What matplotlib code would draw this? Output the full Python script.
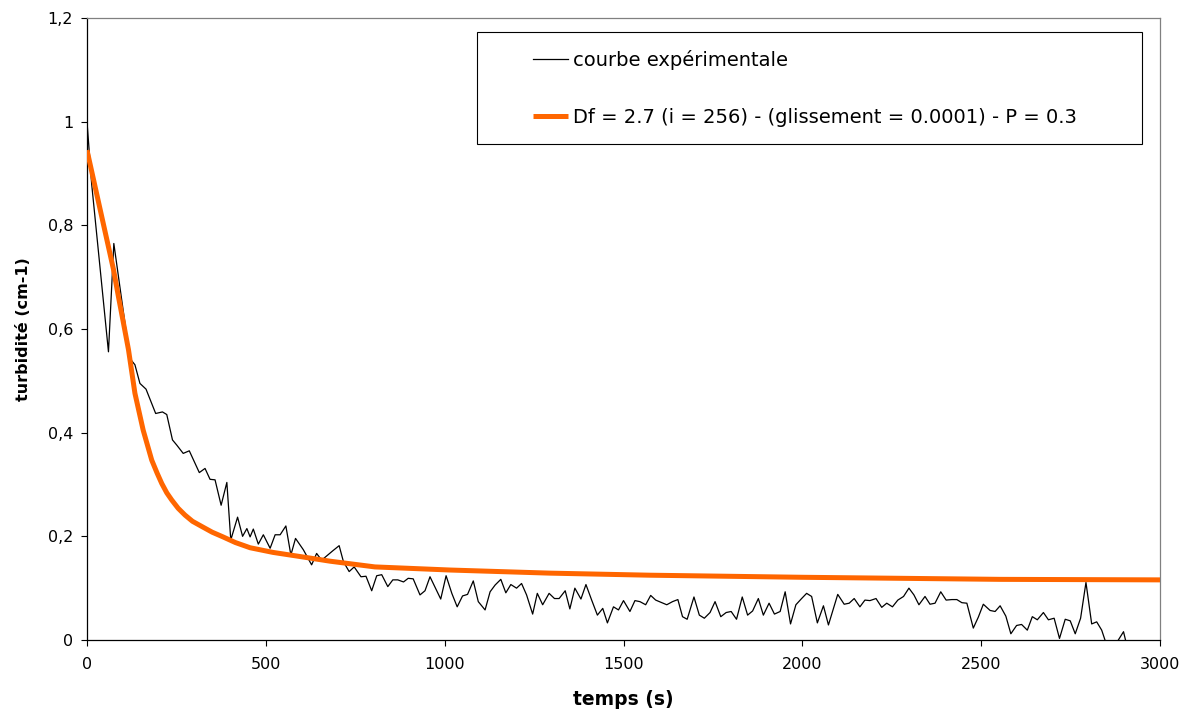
import matplotlib
matplotlib.use("Agg")
import matplotlib.pyplot as plt
from matplotlib.legend_handler import HandlerLine2D
from matplotlib.ticker import FuncFormatter

# ---- data ----
exp_t = [0, 13, 60, 75, 120, 134, 148, 165, 192, 211, 223, 239, 251, 269, 286,
         314, 330, 344, 358, 375, 391, 402, 421, 435, 447, 456, 465, 479, 493,
         512, 526, 540, 556, 570, 583, 605, 628, 642, 656, 687, 705, 717, 733,
         747, 766, 780, 796, 810, 824, 841, 855, 869, 885, 898, 912, 931, 945,
         959, 973, 989, 1004, 1020, 1035, 1050, 1064, 1080, 1094, 1113, 1127,
         1141, 1157, 1171, 1185, 1201, 1215, 1229, 1246, 1259, 1274, 1292, 1307,
         1320, 1337, 1350, 1364, 1381, 1395, 1411, 1427, 1442, 1455, 1472, 1486,
         1500, 1518, 1532, 1546, 1562, 1576, 1590, 1607, 1621, 1637, 1652, 1665,
         1678, 1697, 1712, 1726, 1742, 1756, 1772, 1787, 1801, 1816, 1832, 1847,
         1861, 1877, 1891, 1907, 1922, 1938, 1952, 1967, 1982, 1998, 2012, 2026,
         2042, 2059, 2073, 2099, 2117, 2131, 2145, 2161, 2175, 2189, 2206, 2222,
         2236, 2252, 2267, 2283, 2298, 2312, 2326, 2343, 2357, 2371, 2387, 2402,
         2418, 2432, 2446, 2460, 2478, 2492, 2506, 2525, 2539, 2553, 2569, 2583,
         2599, 2613, 2629, 2643, 2657, 2674, 2688, 2704, 2719, 2735, 2749, 2763,
         2778, 2793, 2809, 2823, 2837, 2851, 2879, 2898, 2907]
exp_v = [1.0, 0.88, 0.556, 0.765, 0.543, 0.531, 0.495, 0.484, 0.437, 0.440,
         0.435, 0.386, 0.376, 0.360, 0.365, 0.323, 0.331, 0.310, 0.309, 0.260,
         0.304, 0.193, 0.237, 0.200, 0.215, 0.199, 0.214, 0.185, 0.203, 0.177,
         0.203, 0.203, 0.220, 0.164, 0.196, 0.174, 0.145, 0.167, 0.154, 0.172,
         0.182, 0.151, 0.132, 0.141, 0.122, 0.123, 0.095, 0.124, 0.126, 0.103,
         0.116, 0.116, 0.112, 0.119, 0.118, 0.087, 0.095, 0.122, 0.102, 0.079,
         0.124, 0.090, 0.064, 0.085, 0.088, 0.114, 0.074, 0.058, 0.093, 0.106,
         0.117, 0.091, 0.107, 0.100, 0.109, 0.087, 0.050, 0.090, 0.068, 0.090,
         0.080, 0.080, 0.095, 0.060, 0.100, 0.079, 0.107, 0.077, 0.048, 0.061,
         0.033, 0.064, 0.058, 0.076, 0.055, 0.076, 0.074, 0.068, 0.086, 0.077,
         0.072, 0.068, 0.074, 0.078, 0.045, 0.040, 0.083, 0.048, 0.042, 0.053,
         0.074, 0.045, 0.053, 0.055, 0.040, 0.083, 0.048, 0.056, 0.080, 0.048,
         0.071, 0.050, 0.055, 0.093, 0.031, 0.068, 0.080, 0.090, 0.084, 0.033,
         0.066, 0.029, 0.088, 0.069, 0.071, 0.080, 0.064, 0.077, 0.076, 0.080,
         0.063, 0.071, 0.064, 0.077, 0.084, 0.100, 0.087, 0.068, 0.084, 0.069,
         0.071, 0.093, 0.077, 0.078, 0.078, 0.072, 0.071, 0.023, 0.044, 0.069,
         0.057, 0.055, 0.066, 0.046, 0.012, 0.028, 0.030, 0.019, 0.045, 0.039,
         0.053, 0.039, 0.042, 0.003, 0.040, 0.037, 0.012, 0.042, 0.111, 0.031,
         0.035, 0.019, -0.010, -0.005, 0.016, -0.010]

fit_t = [0, 36, 74, 88, 101, 116, 134, 157, 181, 196, 209, 223, 237, 255, 274,
         295, 321, 350, 380, 415, 456, 520, 596, 680, 805, 1015, 1294, 1574,
         2000, 2553, 3000]
fit_v = [0.945, 0.833, 0.715, 0.662, 0.615, 0.560, 0.476, 0.405, 0.347, 0.322,
         0.302, 0.284, 0.270, 0.254, 0.241, 0.229, 0.219, 0.208, 0.199, 0.188,
         0.178, 0.169, 0.161, 0.152, 0.141, 0.135, 0.129, 0.125, 0.121, 0.117,
         0.116]

exp_label = "courbe expérimentale"
fit_label = "Df = 2.7 (i = 256) - (glissement = 0.0001) - P = 0.3"
x_ticks = [0, 500, 1000, 1500, 2000, 2500, 3000]
y_ticks = [0, 0.2, 0.4, 0.6, 0.8, 1.0, 1.2]

plt.rcParams['font.family'] = ['DejaVu Sans']

W, H = 1187, 716
fig = plt.figure(figsize=(W / 100, H / 100), dpi=100)
ax = fig.add_axes([87 / W, 1 - 640 / H, (1160 - 87) / W, (640 - 18) / H])

ax.plot(exp_t, exp_v, color='black', lw=0.9, label=exp_label, zorder=2)
ax.plot(fit_t, fit_v, color='#FF6600', lw=3.6, label=fit_label, zorder=3,
        solid_capstyle='butt', solid_joinstyle='round')

ax.set_xlim(0, 3000)
ax.set_ylim(0, 1.2)
ax.set_xticks(x_ticks)
ax.set_yticks(y_ticks)
ax.yaxis.set_major_formatter(FuncFormatter(lambda v, p: f"{v:g}".replace('.', ',')))
ax.tick_params(direction='out', length=4, width=0.8, colors='black',
               labelsize=11.5)
ax.tick_params(axis='x', pad=8)
ax.tick_params(axis='y', pad=6)

for s in ('left', 'bottom'):
    ax.spines[s].set_color('black')
    ax.spines[s].set_linewidth(0.9)
for s in ('top', 'right'):
    ax.spines[s].set_color('#808080')
    ax.spines[s].set_linewidth(0.9)

ax.set_xlabel("temps (s)", fontsize=13.5, fontweight='bold', labelpad=13)
ax.set_ylabel("turbidité (cm-1)", fontsize=11.5, fontweight='bold', labelpad=12)


class RightLine(HandlerLine2D):
    seg = 25.2

    def get_xdata(self, legend, xdescent, ydescent, width, height, fontsize):
        xd = [-xdescent + width - self.seg, -xdescent + width]
        return xd, xd


leg = ax.legend(loc='upper left', bbox_to_anchor=(0.3635, 0.796, 0.6195, 0.1815),
                mode='expand', fontsize=14, frameon=True, fancybox=False,
                edgecolor='black', framealpha=1, borderpad=0.92,
                labelspacing=1.94, handlelength=3.75, handletextpad=0.26,
                borderaxespad=0,
                handler_map={plt.Line2D: RightLine()})
leg.get_frame().set_linewidth(0.8)

fig.savefig("out.png", dpi=100)
